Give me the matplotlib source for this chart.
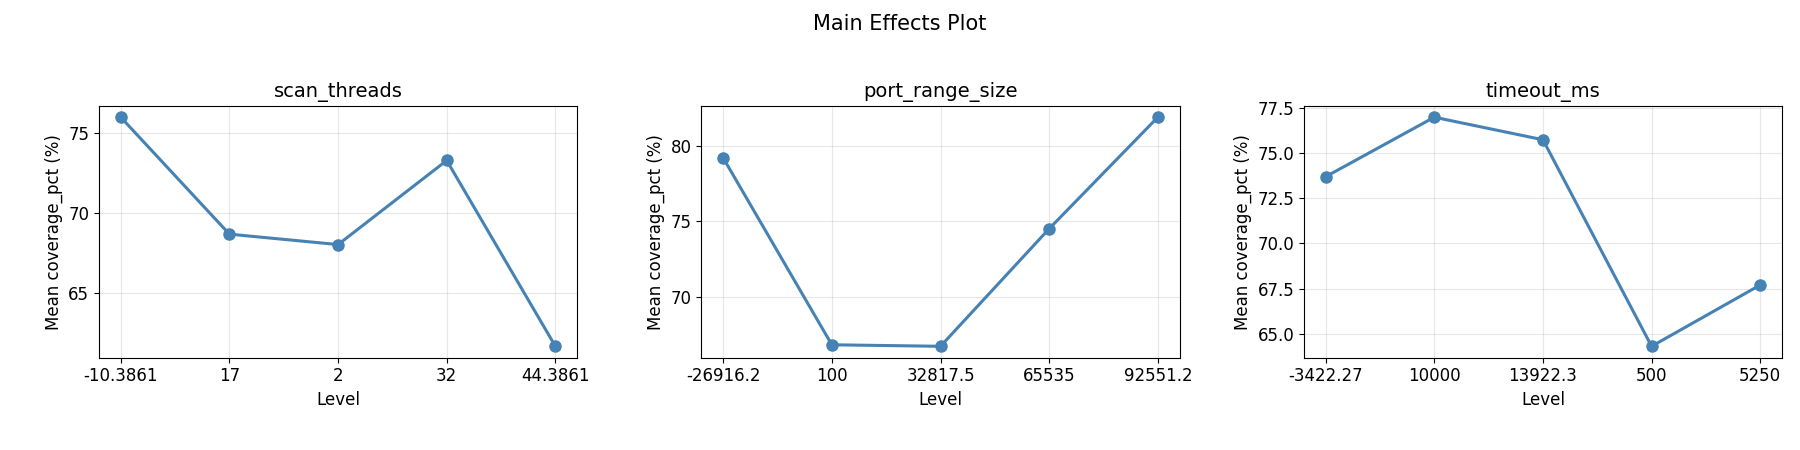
import matplotlib
matplotlib.use("Agg")
import matplotlib.pyplot as plt
from matplotlib.ticker import MultipleLocator

FACTORS = ["scan_threads", "port_range_size", "timeout_ms"]
LEVELS = [
    ["-10.3861", "17", "2", "32", "44.3861"],
    ["-26916.2", "100", "32817.5", "65535", "92551.2"],
    ["-3422.27", "10000", "13922.3", "500", "5250"],
]
MEANS = [
    [76.0, 68.7, 68.05, 73.3, 61.7],
    [79.2, 66.8, 66.7, 74.5, 81.9],
    [73.7, 77.0, 75.75, 64.3, 67.7],
]
YSTEPS = [5, 5, 2.5]


def main():
    fig, axes = plt.subplots(1, 3, figsize=(18, 4.5), dpi=100)
    for ax, name, levels, means, step in zip(axes, FACTORS, LEVELS, MEANS, YSTEPS):
        x = range(len(levels))
        ax.plot(x, means, "o-", color="steelblue", lw=2.2, ms=8)
        ax.set_xticks(list(x))
        ax.set_xticklabels(levels, fontsize=12)
        ax.yaxis.set_major_locator(MultipleLocator(step))
        ax.tick_params(axis="y", labelsize=12)
        ax.set_title(name, fontsize=14)
        ax.set_xlabel("Level", fontsize=12)
        ax.set_ylabel("Mean coverage_pct (%)", fontsize=12)
        ax.grid(alpha=0.3)
    fig.suptitle("Main Effects Plot", fontsize=15, y=0.97)
    fig.subplots_adjust(left=0.055, right=0.99, top=0.765, bottom=0.205, wspace=0.26)
    fig.savefig("out.png")


if __name__ == "__main__":
    main()
